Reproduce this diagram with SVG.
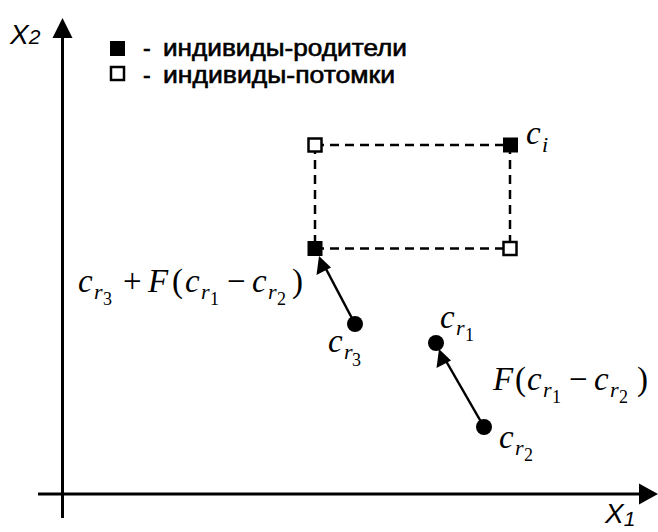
<svg xmlns="http://www.w3.org/2000/svg" width="658" height="532" viewBox="0 0 658 532">
<style>
.ax{stroke:#000;stroke-width:3;fill:none}
.dash{stroke:#000;stroke-width:2.5;stroke-dasharray:9 6;fill:none}
.ln{stroke:#000;stroke-width:2.5;fill:none}
.fill{fill:#000}
.open{fill:#fff;stroke:#000;stroke-width:2.5}
.leg{font-family:"Liberation Sans",Arial,sans-serif;font-size:23px;fill:#000;stroke:#000;stroke-width:0.6}
.axl{font-family:"Liberation Sans",Arial,sans-serif;font-style:italic;fill:#000}
.m{font-family:"Liberation Serif","Times New Roman",serif;font-style:italic;font-size:33px;fill:#000}
.mu{font-family:"Liberation Serif","Times New Roman",serif;font-size:33px;fill:#000}
.s{font-size:22px}
.ss{font-size:18px;font-style:normal}
</style>
<rect width="658" height="532" fill="#fff"/>
<g id="axes">
<line class="ax" x1="62.5" y1="518" x2="62.5" y2="34"/>
<polygon class="fill" points="62.5,18 52.5,38 72.5,38"/>
<line class="ax" x1="38" y1="494" x2="642" y2="494"/>
<polygon class="fill" points="658,494 639,483.5 639,504.5"/>
<text class="axl" x="10" y="44" font-size="28">X<tspan font-size="21" dy="0">2</tspan></text>
<text class="axl" x="605" y="523" font-size="28">X<tspan font-size="21" dy="3">1</tspan></text>
</g>
<g id="legend">
<rect class="fill" x="110" y="41" width="15" height="15"/>
<text class="leg" x="143" y="56">-</text>
<text class="leg" x="163" y="56" textLength="244" lengthAdjust="spacingAndGlyphs">индивиды-родители</text>
<rect class="open" x="111" y="67" width="13" height="13"/>
<text class="leg" x="143" y="83">-</text>
<text class="leg" x="163" y="83" textLength="232" lengthAdjust="spacingAndGlyphs">индивиды-потомки</text>
</g>
<g id="connectors">
<line class="dash" x1="315" y1="145" x2="510" y2="145"/>
<line class="dash" x1="315" y1="248.5" x2="510" y2="248.5"/>
<line class="dash" x1="315" y1="145" x2="315" y2="248.5"/>
<line class="dash" x1="510" y1="145" x2="510" y2="248.5"/>
<line class="ln" x1="355" y1="324" x2="326" y2="269"/>
<polygon class="fill" points="319,256 316.5,275 331,267.5"/>
<line class="ln" x1="484" y1="427" x2="446" y2="361"/>
<polygon class="fill" points="439,349 436.5,368 451,360.5"/>
</g>
<g id="node-ci">
<rect class="fill" x="503" y="137.5" width="15" height="15"/>
<text class="m" x="526" y="144">c<tspan class="s" x="542" y="152">i</tspan></text>
</g>
<g id="node-tl">
<rect class="open" x="308.5" y="138.5" width="13" height="13"/>
</g>
<g id="node-br">
<rect class="open" x="503.5" y="242" width="13" height="13"/>
</g>
<g id="node-mutant">
<rect class="fill" x="307.5" y="241" width="15" height="15"/>
<text class="m" x="78" y="292">c<tspan class="s" x="94" y="299">r</tspan><tspan class="ss" x="103" y="305">3</tspan><tspan class="mu" x="123" y="292" font-style="normal">+</tspan><tspan x="148" y="292">F</tspan><tspan font-style="normal" x="172" y="292">(</tspan><tspan x="185" y="292">c</tspan><tspan class="s" x="201" y="299">r</tspan><tspan class="ss" x="210" y="305">1</tspan><tspan font-style="normal" x="227" y="292">−</tspan><tspan x="252" y="292">c</tspan><tspan class="s" x="268" y="299">r</tspan><tspan class="ss" x="277" y="305">2</tspan><tspan font-style="normal" x="292" y="292">)</tspan></text>
</g>
<g id="node-cr3">
<circle class="fill" cx="355" cy="324" r="8"/>
<text class="m" x="328" y="352">c<tspan class="s" x="344" y="359">r</tspan><tspan class="ss" x="352" y="366">3</tspan></text>
</g>
<g id="node-cr1">
<circle class="fill" cx="436" cy="343" r="8"/>
<text class="m" x="440" y="328">c<tspan class="s" x="456" y="335">r</tspan><tspan class="ss" x="465" y="341">1</tspan></text>
</g>
<g id="node-cr2">
<circle class="fill" cx="484" cy="427" r="8"/>
<text class="m" x="499" y="448">c<tspan class="s" x="515" y="455">r</tspan><tspan class="ss" x="524" y="461">2</tspan></text>
</g>
<g id="label-diff">
<text class="m" x="493" y="390">F<tspan font-style="normal" x="515" y="390">(</tspan><tspan x="527" y="390">c</tspan><tspan class="s" x="543" y="397">r</tspan><tspan class="ss" x="552" y="403">1</tspan><tspan font-style="normal" x="569" y="390">−</tspan><tspan x="594" y="390">c</tspan><tspan class="s" x="610" y="397">r</tspan><tspan class="ss" x="619" y="403">2</tspan><tspan font-style="normal" x="637" y="390">)</tspan></text>
</g>
</svg>
